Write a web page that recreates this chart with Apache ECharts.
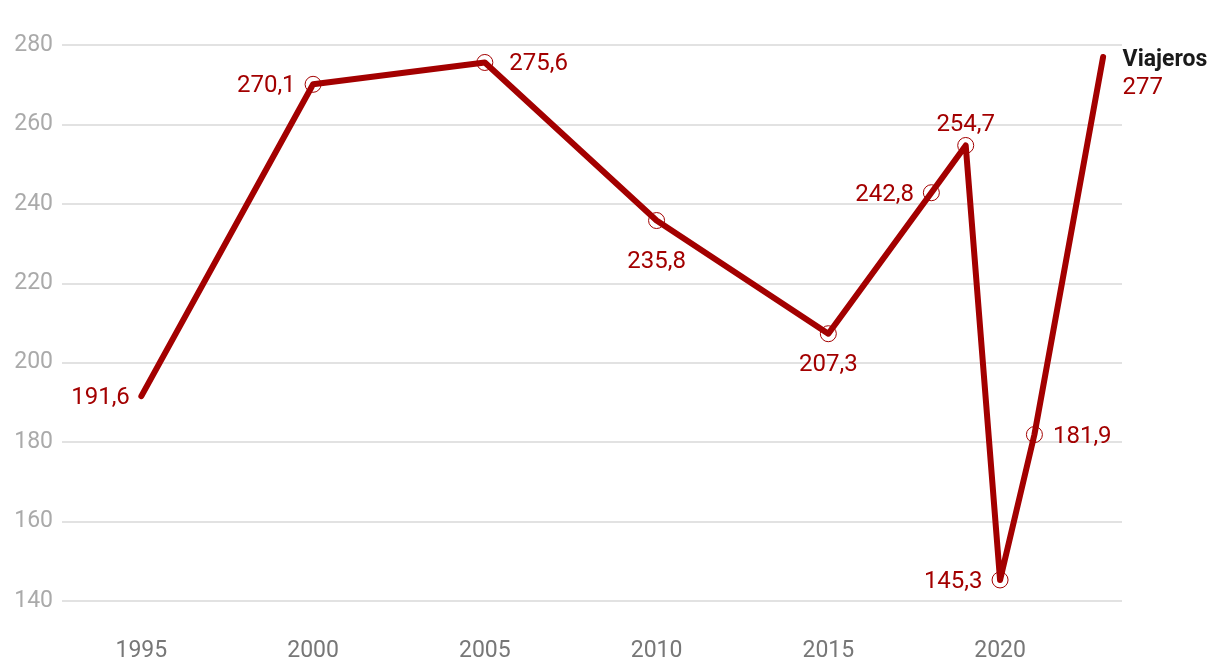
<!DOCTYPE html>
<html>
<head>
<meta charset="utf-8">
<script src="https://cdn.jsdelivr.net/npm/echarts@6/dist/echarts.min.js"></script>
<style>html,body{margin:0;padding:0;background:#fff}#c{width:1220px;height:672px}</style>
</head>
<body>
<div id="c"></div>
<script>
const years = [1995, 2000, 2005, 2010, 2015, 2018, 2019, 2020, 2021, 2023];
const viajeros = [191.6, 270.1, 275.6, 235.8, 207.3, 242.8, 254.7, 145.3, 181.9, 277];
const labelPositions = ['left', 'left', 'right', 'bottom', 'bottom', 'left', 'top', 'left', 'right', 'right'];
const labelDistances = [11, 9, 16, 21, 11, 9, 0, 9, 10, 19];
const xTicks = [1995, 2000, 2005, 2010, 2015, 2020];
const yTicks = [140, 160, 180, 200, 220, 240, 260, 280];
const seriesName = 'Viajeros';

const RED = '#a30000';
const fmt = v => String(v).replace('.', ',');

const data = years.map((y, i) => {
  const last = i === years.length - 1;
  const first = i === 0;
  const side = labelPositions[i] === 'left' || labelPositions[i] === 'right';
  const item = {
    value: [y, viajeros[i]],
    label: {
      show: true,
      position: labelPositions[i],
      distance: labelDistances[i],
      offset: side ? [0, 2] : [0, 0],
      formatter: fmt(viajeros[i])
    }
  };
  if (first || last) {
    item.symbolSize = 1;
    item.itemStyle = { borderWidth: 0, color: 'rgba(0,0,0,0)' };
  }
  if (last) {
    item.label = {
      show: true,
      position: 'right',
      distance: labelDistances[i],
      offset: [0, 17],
      align: 'left',
      formatter: '{n|' + seriesName + '}\n{v|' + fmt(viajeros[i]) + '}',
      rich: {
        n: { fontFamily: 'Roboto', fontSize: 23, fontWeight: 'bold', color: '#1a1a1a', lineHeight: 28 },
        v: { fontFamily: 'Roboto', fontSize: 24, color: RED, lineHeight: 28 }
      }
    };
  }
  return item;
});

const chart = echarts.init(document.getElementById('c'), null, { renderer: 'canvas' });
chart.setOption({
  animation: false,
  backgroundColor: '#fff',
  grid: { left: 62, right: 98, top: 45, bottom: 71, containLabel: false },
  xAxis: {
    type: 'value',
    min: 1992.69,
    max: 2023.55,
    axisLine: { show: false },
    axisTick: { show: false },
    splitLine: { show: false },
    axisLabel: {
      customValues: xTicks,
      formatter: v => String(v),
      color: '#777',
      fontFamily: 'Roboto',
      fontSize: 23,
      margin: 39
    }
  },
  yAxis: {
    type: 'value',
    min: 140,
    max: 280,
    interval: 20,
    axisLine: { show: false },
    axisTick: { show: false },
    splitLine: { lineStyle: { color: '#e2e2e2', width: 2 } },
    axisLabel: {
      color: '#aaa',
      fontFamily: 'Roboto',
      fontSize: 23,
      margin: 9,
      formatter: v => yTicks.includes(v) ? String(v) : ''
    }
  },
  series: [{
    name: seriesName,
    type: 'line',
    data: data,
    symbol: 'circle',
    symbolSize: 16,
    showAllSymbol: true,
    lineStyle: { color: RED, width: 6, cap: 'round', join: 'round' },
    itemStyle: { color: 'rgba(255,255,255,0)', borderColor: RED, borderWidth: 1 },
    label: { color: RED, fontFamily: 'Roboto', fontSize: 24 },
    emphasis: { disabled: true }
  }]
});
</script>
</body>
</html>
